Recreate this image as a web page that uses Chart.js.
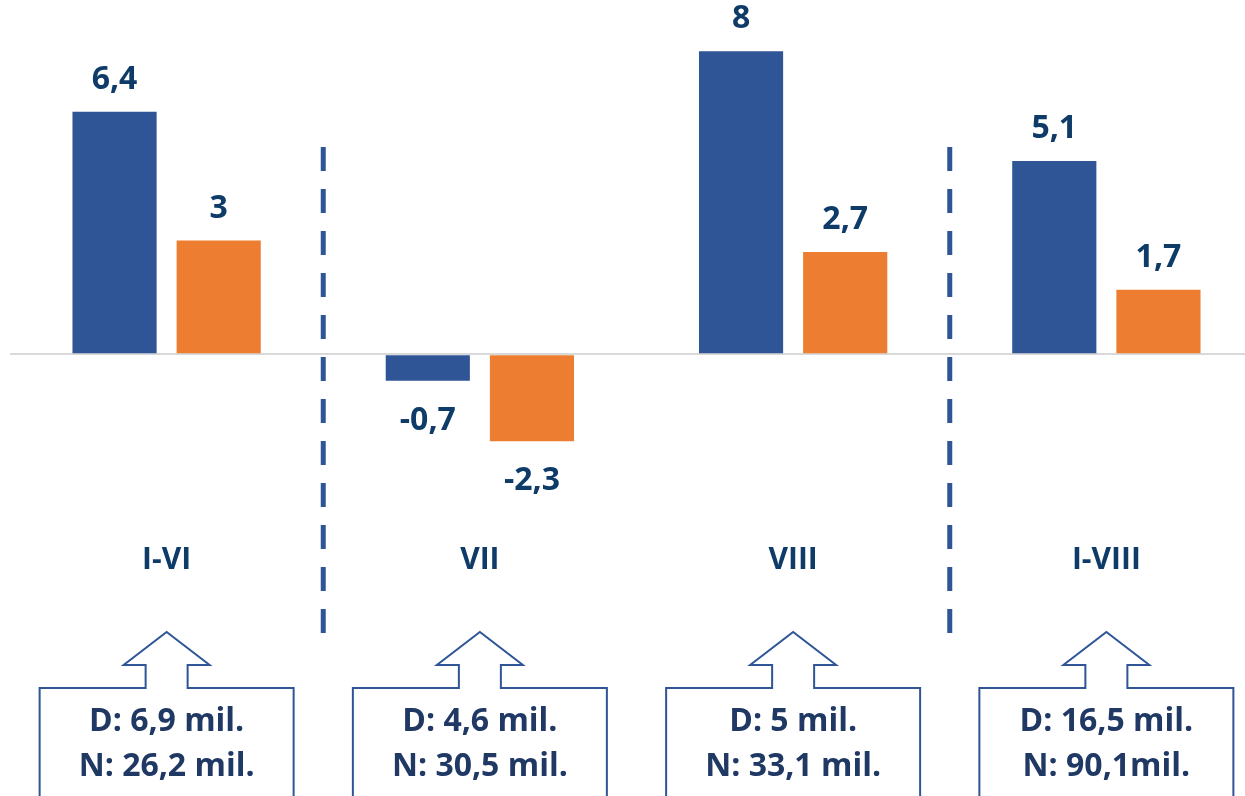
<!DOCTYPE html>
<html>
<head>
<meta charset="utf-8">
<script src="https://cdn.jsdelivr.net/npm/chart.js@4"></script>
<style>
html,body{margin:0;padding:0;background:#fff;overflow:hidden;}
#wrap{width:1263px;height:796px;}
</style>
</head>
<body>
<div id="wrap"><canvas id="c" width="1263" height="796"></canvas></div>
<script>
const categories = ['I-VI', 'VII', 'VIII', 'I-VIII'];
const seriesBlue = [6.4, -0.7, 8, 5.1];
const seriesOrange = [3, -2.3, 2.7, 1.7];
const boxLine1 = ['D: 6,9 mil.', 'D: 4,6 mil.', 'D: 5 mil.', 'D: 16,5 mil.'];
const boxLine2 = ['N: 26,2 mil.', 'N: 30,5 mil.', 'N: 33,1 mil.', 'N: 90,1mil.'];
const separatorsAfter = [0, 2];

const FONT = '"Open Sans", "Noto Sans", sans-serif';
const LABEL_COLOR = '#0E3B68';
const BOX_TEXT = '#1F3864';
const LINE_BLUE = '#2F5597';

const fmt = v => String(v).replace('.', ',');

const valueLabels = {
  id: 'valueLabels',
  afterDatasetsDraw(chart) {
    const ctx = chart.ctx;
    ctx.save();
    ctx.font = 'bold 32px ' + FONT;
    ctx.fillStyle = LABEL_COLOR;
    ctx.textAlign = 'center';
    ctx.textBaseline = 'middle';
    chart.data.datasets.forEach((ds, di) => {
      const meta = chart.getDatasetMeta(di);
      meta.data.forEach((bar, i) => {
        const v = ds.data[i];
        const y = v >= 0 ? bar.y - 32 : bar.y + 40;
        ctx.fillText(fmt(v), bar.x, y);
      });
    });
    ctx.restore();
  }
};

const decorations = {
  id: 'decorations',
  afterDraw(chart) {
    const ctx = chart.ctx;
    const xs = chart.scales.x;
    ctx.save();
    ctx.strokeStyle = LINE_BLUE;
    ctx.lineWidth = 5;
    ctx.setLineDash([24, 18]);
    separatorsAfter.forEach(i => {
      const x = (xs.getPixelForValue(i) + xs.getPixelForValue(i + 1)) / 2;
      ctx.beginPath();
      ctx.moveTo(x, 147);
      ctx.lineTo(x, 638);
      ctx.stroke();
    });
    ctx.setLineDash([]);
    categories.forEach((c, i) => {
      const cx = xs.getPixelForValue(i);
      const hw = 127, top = 688, tip = 632, headBase = 665, headHW = 43, stemHW = 21;
      ctx.beginPath();
      ctx.moveTo(cx - hw, 800);
      ctx.lineTo(cx - hw, top);
      ctx.lineTo(cx - stemHW, top);
      ctx.lineTo(cx - stemHW, headBase);
      ctx.lineTo(cx - headHW, headBase);
      ctx.lineTo(cx, tip);
      ctx.lineTo(cx + headHW, headBase);
      ctx.lineTo(cx + stemHW, headBase);
      ctx.lineTo(cx + stemHW, top);
      ctx.lineTo(cx + hw, top);
      ctx.lineTo(cx + hw, 800);
      ctx.lineWidth = 2;
      ctx.strokeStyle = LINE_BLUE;
      ctx.stroke();
      ctx.font = 'bold 32px ' + FONT;
      ctx.fillStyle = BOX_TEXT;
      ctx.textAlign = 'center';
      ctx.textBaseline = 'middle';
      ctx.fillText(boxLine1[i], cx, 722);
      ctx.fillText(boxLine2[i], cx, 767);
    });
    ctx.restore();
  }
};

new Chart(document.getElementById('c'), {
  type: 'bar',
  data: {
    labels: categories,
    datasets: [
      { data: seriesBlue, backgroundColor: '#2F5597', barPercentage: 0.808, categoryPercentage: 0.665 },
      { data: seriesOrange, backgroundColor: '#ED7D31', barPercentage: 0.808, categoryPercentage: 0.665 }
    ]
  },
  options: {
    responsive: false,
    animation: false,
    layout: { padding: { left: 10, right: 0, top: 2, bottom: 212 } },
    plugins: { legend: { display: false }, tooltip: { enabled: false } },
    scales: {
      x: {
        grid: { display: false, drawTicks: false },
        border: { display: false },
        ticks: { color: LABEL_COLOR, font: { family: FONT, size: 30, weight: 'bold' }, padding: 6 }
      },
      y: {
        min: -4.8, max: 9.3,
        ticks: { display: false, stepSize: 1 },
        border: { display: false },
        grid: {
          drawTicks: false,
          lineWidth: 2,
          color: c => (c.tick && c.tick.value === 0) ? '#D9D9D9' : 'rgba(0,0,0,0)'
        }
      }
    }
  },
  plugins: [valueLabels, decorations]
});
</script>
</body>
</html>
